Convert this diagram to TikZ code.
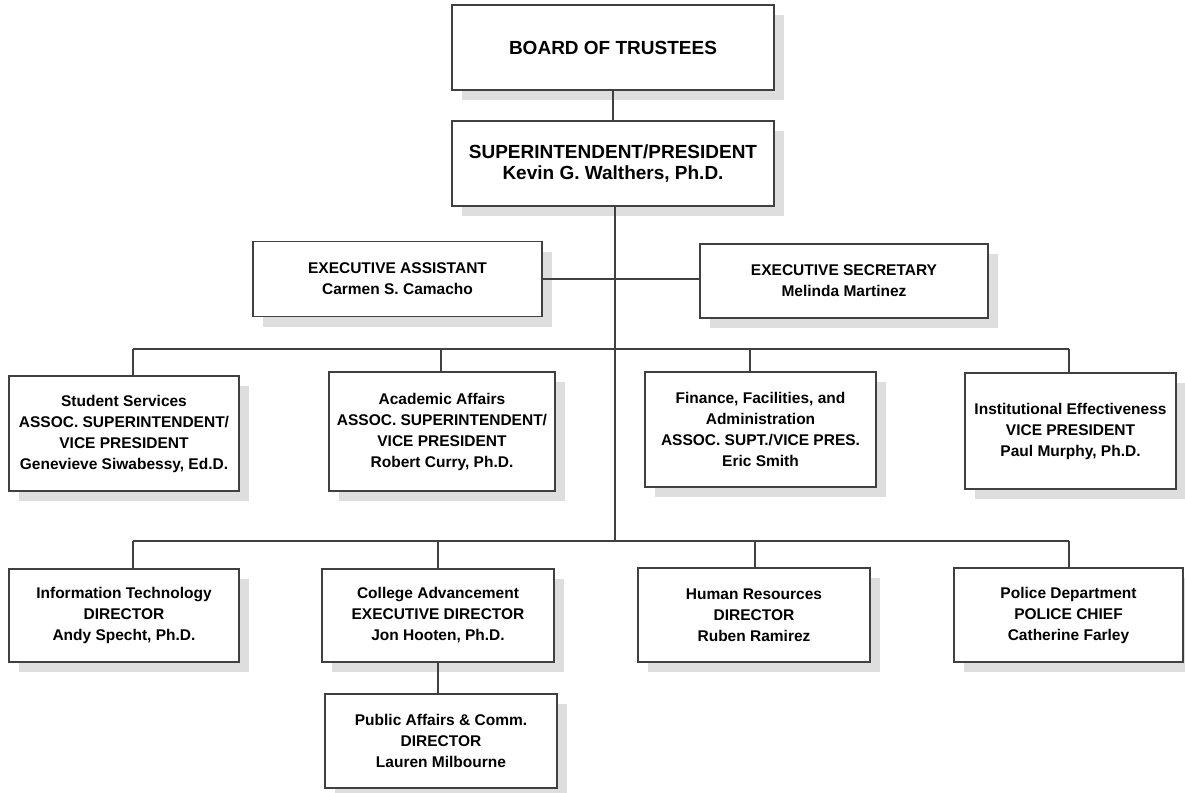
\documentclass[tikz,border=0pt]{standalone}
\usepackage{fontspec}
\setmainfont{Liberation Sans}
\usetikzlibrary{shadows}
\definecolor{edge}{HTML}{404040}
\definecolor{shade}{HTML}{DEDEDE}
\tikzset{
  box/.style={draw=edge, line width=1.5pt, fill=white, align=center, inner sep=0pt,
    font=\fontsize{15.5}{21}\selectfont\bfseries,
    drop shadow={shadow xshift=10pt, shadow yshift=-10pt, fill=shade, opacity=1, draw=none}},
  bigbox/.style={box, font=\fontsize{19}{21}\selectfont\bfseries},
  link/.style={draw=edge, line width=1.5pt},
}
\begin{document}
\begin{tikzpicture}[x=1pt, y=-1pt]
\useasboundingbox[fill=white] (0,0) rectangle (1185,792);

% top of the chart
\node[bigbox, minimum width=322pt, minimum height=85pt] (board) at (613,47.5) {BOARD OF TRUSTEES};
\node[bigbox, minimum width=322pt, minimum height=85pt] (pres) at (613,163.5) {SUPERINTENDENT/PRESIDENT\\Kevin G. Walthers, Ph.D.};

% staff
\node[box, minimum width=289pt, minimum height=75pt] (asst) at (397.5,279) {EXECUTIVE ASSISTANT\\Carmen S. Camacho};
\node[box, minimum width=288pt, minimum height=74pt] (secy) at (844,281) {EXECUTIVE SECRETARY\\Melinda Martinez};

% vice presidents
\node[box, minimum width=230pt, minimum height=115pt] (stu) at (124,433.5) {Student Services\\ASSOC. SUPERINTENDENT/\\VICE PRESIDENT\\Genevieve Siwabessy, Ed.D.};
\node[box, minimum width=226pt, minimum height=119pt] (acad) at (442,431.5) {Academic Affairs\\ASSOC. SUPERINTENDENT/\\VICE PRESIDENT\\Robert Curry, Ph.D.};
\node[box, minimum width=231pt, minimum height=115pt] (fin) at (760.5,429.5) {Finance, Facilities, and\\Administration\\ASSOC. SUPT./VICE PRES.\\Eric Smith};
\node[box, minimum width=211pt, minimum height=116pt] (inst) at (1070.5,431) {Institutional Effectiveness\\VICE PRESIDENT\\Paul Murphy, Ph.D.};

% directors
\node[box, minimum width=230pt, minimum height=93pt] (it) at (124,615.5) {Information Technology\\DIRECTOR\\Andy Specht, Ph.D.};
\node[box, minimum width=232pt, minimum height=93pt] (adv) at (438,615.5) {College Advancement\\EXECUTIVE DIRECTOR\\Jon Hooten, Ph.D.};
\node[box, minimum width=232pt, minimum height=94pt] (hr) at (754,615) {Human Resources\\DIRECTOR\\Ruben Ramirez};
\node[box, minimum width=229pt, minimum height=94pt] (police) at (1068.5,615) {Police Department\\POLICE CHIEF\\Catherine Farley};
\node[box, minimum width=232pt, minimum height=94pt] (pub) at (441,741) {Public Affairs \& Comm.\\DIRECTOR\\Lauren Milbourne};

% bus points
\coordinate (trunk) at (615,206);
\coordinate (busB) at (615,541);
\coordinate (a1) at (133,349);
\coordinate (a2) at (441,349);
\coordinate (a3) at (750,349);
\coordinate (a4) at (1069,349);
\coordinate (b1) at (133,541);
\coordinate (b2) at (438,541);
\coordinate (b3) at (755,541);
\coordinate (b4) at (1069,541);

% connectors
\draw[link] (board.south) -- (pres.north);
\draw[link] (trunk) -- (busB);
\draw[link] (asst.east) -- (asst.east -| secy.west);
\draw[link] (a1) -- (a4);
\draw[link] (b1) -- (b4);
\draw[link] (a1) -- (a1 |- stu.north);
\draw[link] (a2) -- (a2 |- acad.north);
\draw[link] (a3) -- (a3 |- fin.north);
\draw[link] (a4) -- (a4 |- inst.north);
\draw[link] (b1) -- (b1 |- it.north);
\draw[link] (b2) -- (b2 |- adv.north);
\draw[link] (b3) -- (b3 |- hr.north);
\draw[link] (b4) -- (b4 |- police.north);
\draw[link] (adv.south) -- (adv.south |- pub.north);
\end{tikzpicture}
\end{document}
